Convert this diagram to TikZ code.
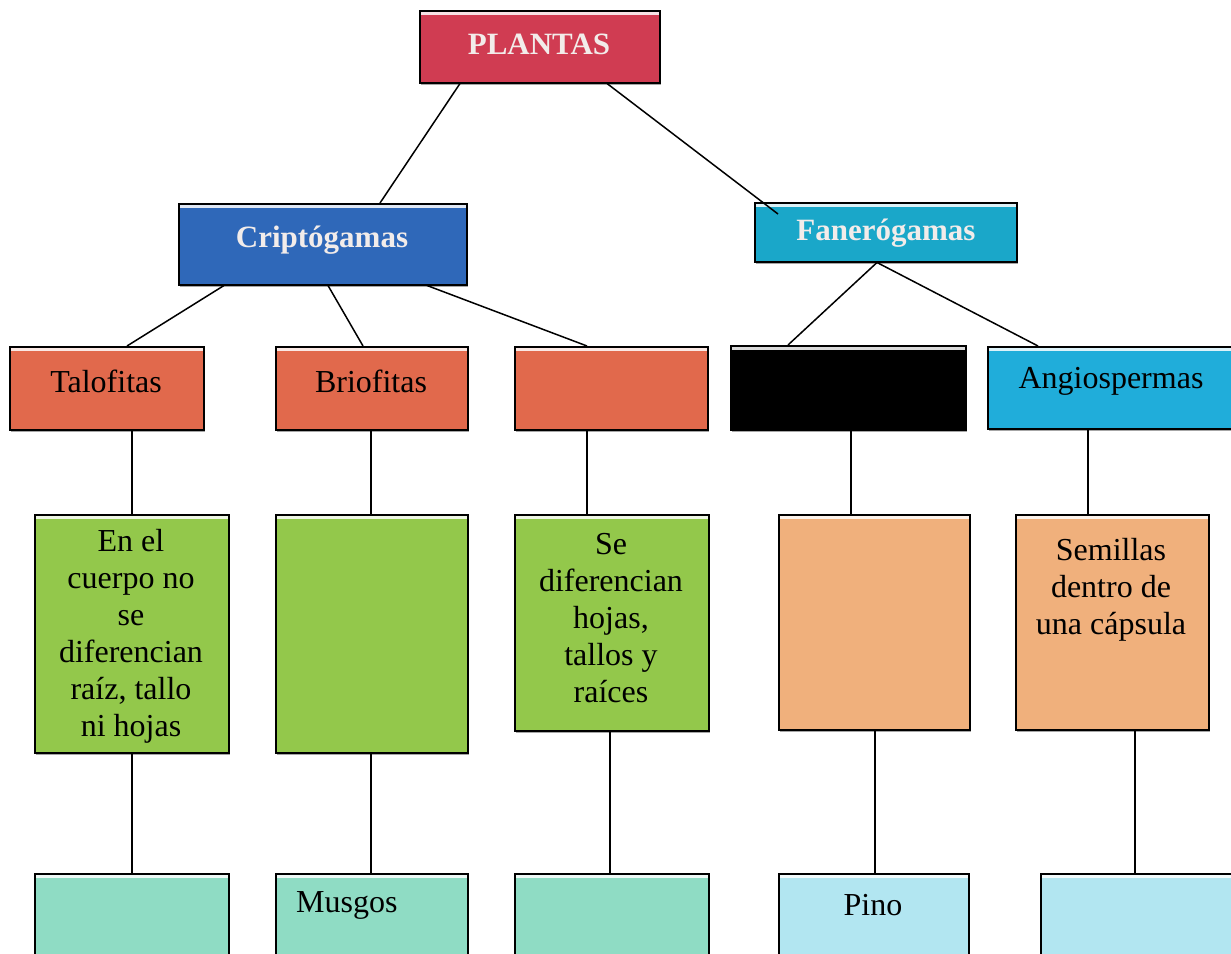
\documentclass[tikz,border=0pt]{standalone}
\usepackage{fontspec}
\setmainfont{Liberation Serif}
\usetikzlibrary{shadows}
\definecolor{cred}{HTML}{D03C52}
\definecolor{cblue}{HTML}{2F68B9}
\definecolor{cteal}{HTML}{1AA7C9}
\definecolor{corange}{HTML}{E1694C}
\definecolor{cangio}{HTML}{20ADDA}
\definecolor{cgreen}{HTML}{93C84B}
\definecolor{cpeach}{HTML}{F0B07C}
\definecolor{cmint}{HTML}{8FDCC4}
\definecolor{clblue}{HTML}{B2E6F1}
\definecolor{hdrtext}{HTML}{F2ECEA}
\tikzset{
  box/.style={draw=black, line width=1.5pt, anchor=north west, inner sep=0pt,
    drop shadow={shadow xshift=1.5pt, shadow yshift=-2.5pt, fill=black, opacity=0.35},
    path picture={\fill[white, opacity=0.85]
      ([yshift=-1.5pt]path picture bounding box.north west) rectangle
      ([yshift=-4pt]path picture bounding box.north east);}},
  ln/.style={draw=black, line width=1.5pt},
  txt/.style={font=\fontsize{32}{37}\selectfont, align=center, inner sep=0pt},
  hdr/.style={font=\fontsize{31}{36}\selectfont\bfseries, inner sep=0pt, text=hdrtext},
}
\newcommand\bx[6]{\node[box, fill=#6, minimum width=#4pt, minimum height=#5pt] (#1) at (#2,#3) {};}
\begin{document}
\begin{tikzpicture}[x=1pt,y=-1pt]
\useasboundingbox (0,0) rectangle (1231,953);
\clip (0,0) rectangle (1231,953);
\fill[white] (0,0) rectangle (1231,953);
% boxes
\bx{plantas}{419}{10}{240}{72}{cred}
\bx{crip}{178}{203}{288}{81}{cblue}
\bx{fan}{754}{202}{262}{59}{cteal}
\bx{talo}{9}{346}{194}{83}{corange}
\bx{brio}{275}{346}{192}{83}{corange}
\bx{ter}{514}{346}{193}{83}{corange}
\bx{gim}{730}{345}{235}{84}{black}
\bx{ang}{987}{346}{260}{82}{cangio}
\bx{gr1}{34}{514}{194}{238}{cgreen}
\bx{gr2}{275}{514}{192}{238}{cgreen}
\bx{gr3}{514}{514}{194}{216}{cgreen}
\bx{pe1}{778}{514}{191}{215}{cpeach}
\bx{pe2}{1015}{514}{193}{215}{cpeach}
\bx{bo1}{34}{873}{194}{110}{cmint}
\bx{bo2}{275}{873}{192}{110}{cmint}
\bx{bo3}{514}{873}{194}{110}{cmint}
\bx{bo4}{778}{873}{190}{110}{clblue}
\bx{bo5}{1040}{873}{210}{110}{clblue}
% header texts
\node[hdr] (tplantas) at (539,44) {PLANTAS};
\node[hdr] (tcrip) at (322,240) {Criptógamas};
\node[hdr] (tfan) at (886,233) {Fanerógamas};
% level texts
\node[txt] (ttalo) at (106,381) {Talofitas};
\node[txt] (tbrio) at (371,381) {Briofitas};
\node[txt] (tang) at (1111,381) {Angiospermas};
\node[txt] (tgr1) at (131,636) {En el\\cuerpo no\\se\\diferencian\\raíz, tallo\\ni hojas};
\node[txt] (tgr3) at (611,618) {Se\\diferencian\\hojas,\\tallos y\\raíces};
\node[txt] (tpe2) at (1111,590) {Semillas\\dentro de\\una cápsula};
\node[txt, anchor=west] (tbo2) at (296,905) {Musgos};
\node[txt] (tbo4) at (873,905) {Pino};
% connectors
\draw[ln] ([xshift=41pt]plantas.south west) -- ([xshift=202pt]crip.north west);
\draw[ln] ([xshift=188pt]plantas.south west) -- ([xshift=24pt,yshift=-12pt]fan.north west);
\draw[ln] ([xshift=46pt]crip.south west) -- ([xshift=118pt]talo.north west);
\draw[ln] ([xshift=150pt]crip.south west) -- ([xshift=88pt]brio.north west);
\draw[ln] ([xshift=249pt]crip.south west) -- ([xshift=73pt]ter.north west);
\draw[ln] ([xshift=123pt]fan.south west) -- ([xshift=58pt]gim.north west);
\draw[ln] ([xshift=123pt]fan.south west) -- ([xshift=51pt]ang.north west);
\draw[ln] ([xshift=123pt]talo.south west) -- ([xshift=98pt]gr1.north west);
\draw[ln] ([xshift=98pt]gr1.south west) -- ([xshift=98pt]bo1.north west);
\draw[ln] ([xshift=96pt]brio.south west) -- ([xshift=96pt]gr2.north west);
\draw[ln] ([xshift=96pt]gr2.south west) -- ([xshift=96pt]bo2.north west);
\draw[ln] ([xshift=73pt]ter.south west) -- ([xshift=73pt]gr3.north west);
\draw[ln] ([xshift=96pt]gr3.south west) -- ([xshift=96pt]bo3.north west);
\draw[ln] ([xshift=121pt]gim.south west) -- ([xshift=73pt]pe1.north west);
\draw[ln] ([xshift=97pt]pe1.south west) -- ([xshift=97pt]bo4.north west);
\draw[ln] ([xshift=101pt]ang.south west) -- ([xshift=73pt]pe2.north west);
\draw[ln] ([xshift=120pt]pe2.south west) -- ([xshift=95pt]bo5.north west);
\end{tikzpicture}
\end{document}
